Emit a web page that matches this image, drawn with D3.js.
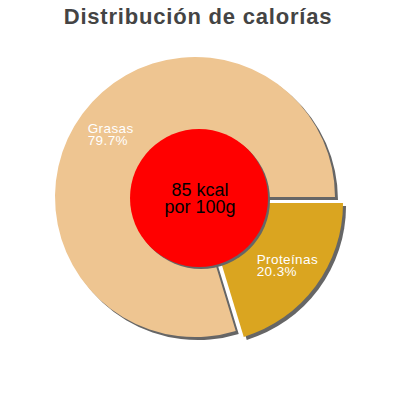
<!DOCTYPE html>
<html>
<head>
<meta charset="utf-8">
<script src="https://cdn.jsdelivr.net/npm/d3@7"></script>
<style>
  body { margin: 0; background: #fff; }
  text { font-family: "Liberation Sans", Arial, sans-serif; }
</style>
</head>
<body>
<div id="chart"></div>
<script>
var categories = ["Proteínas", "Grasas"]
var percents = [20.3, 79.7]
var colors = ["#DAA520", "#EEC591"]
var exploded = [true, false]
var centerLines = ["85 kcal", "por 100g"]
var title = "Distribución de calorías"

var width = 400, height = 400
var cx = 195, cy = 197, radius = 140
var explodeDist = 10
var shadowDx = 3, shadowDy = 3

var svg = d3.select("#chart").append("svg")
    .attr("width", width)
    .attr("height", height)

svg.append("text")
    .attr("x", 198)
    .attr("y", 24)
    .attr("text-anchor", "middle")
    .attr("font-size", "22px")
    .attr("letter-spacing", "0.8px")
    .attr("font-weight", "bold")
    .attr("fill", "#444")
    .text(title)

var data = categories.map(function(c, i) {
    return {name: c, value: percents[i], color: colors[i], explode: exploded[i]}
})

var pie = d3.pie()
    .sort(null)
    .value(d => d.value)
    .startAngle(Math.PI / 2)
    .endAngle(Math.PI / 2 + 2 * Math.PI)

var arc = d3.arc().innerRadius(0).outerRadius(radius)
var arcs = pie(data)

function offset(a, dist) {
    var mid = (a.startAngle + a.endAngle) / 2
    return [Math.sin(mid) * dist, -Math.cos(mid) * dist]
}

var chartG = svg.append("g")
    .attr("transform", `translate(${cx},${cy})`)

// shadows first
chartG.selectAll("path.shadow")
    .data(arcs)
    .enter()
    .append("path")
    .attr("class", "shadow")
    .attr("d", arc)
    .attr("fill", "#666")
    .attr("transform", d => {
        var o = d.data.explode ? offset(d, explodeDist) : [0, 0]
        return `translate(${o[0] + shadowDx},${o[1] + shadowDy})`
    })

chartG.selectAll("path.slice")
    .data(arcs)
    .enter()
    .append("path")
    .attr("class", "slice")
    .attr("d", arc)
    .attr("fill", d => d.data.color)
    .attr("transform", d => {
        var o = d.data.explode ? offset(d, explodeDist) : [0, 0]
        return `translate(${o[0]},${o[1]})`
    })

// slice labels
var labelR = 105
arcs.forEach(function(d) {
    var o = d.data.explode ? offset(d, explodeDist) : [0, 0]
    var p = offset(d, labelR)
    var lg = chartG.append("g")
    var t = lg.append("text")
        .attr("font-size", "13.5px")
        .attr("letter-spacing", "0.4px")
        .attr("fill", "#fff")
    t.append("tspan").attr("x", 0).attr("dy", 0).text(d.data.name)
    t.append("tspan").attr("x", 0).attr("dy", 12).text(d.data.value.toFixed(1) + "%")
    var bb = lg.node().getBBox()
    lg.attr("transform", `translate(${o[0] + p[0] - bb.x - bb.width / 2},${o[1] + p[1] - bb.y - bb.height / 2})`)
})

// center circle
var innerR = 69
var innerDx = 4, innerDy = 1
chartG.append("circle")
    .attr("cx", innerDx + 2)
    .attr("cy", innerDy + 2)
    .attr("r", innerR)
    .attr("fill", "#666")
chartG.append("circle")
    .attr("cx", innerDx)
    .attr("cy", innerDy)
    .attr("r", innerR)
    .attr("fill", "#FF0000")

chartG.append("text")
    .attr("x", 5)
    .attr("y", -1)
    .attr("text-anchor", "middle")
    .attr("font-size", "18px")
    .attr("fill", "#000")
    .selectAll("tspan")
    .data(centerLines)
    .enter()
    .append("tspan")
    .attr("x", 5)
    .attr("dy", (d, i) => i == 0 ? 0 : 17)
    .text(d => d)
</script>
</body>
</html>
